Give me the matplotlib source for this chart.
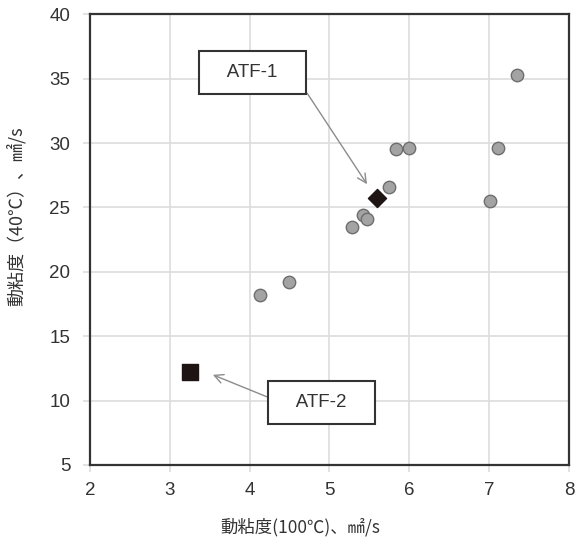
import matplotlib.pyplot as plt

plt.rcParams['font.family'] = ['Noto Sans CJK JP', 'DejaVu Sans']

# kinematic viscosity of ATF samples: 100°C vs 40°C (mm2/s)
visc_100 = [4.13, 4.49, 5.28, 5.42, 5.47, 5.75, 5.83, 6.00, 7.01, 7.11, 7.35]
visc_40 = [18.2, 19.2, 23.5, 24.4, 24.1, 26.6, 29.5, 29.6, 25.5, 29.6, 35.3]

atf1 = (5.60, 25.7)
atf2 = (3.25, 12.2)

x_ticks = [2, 3, 4, 5, 6, 7, 8]
y_ticks = [5, 10, 15, 20, 25, 30, 35, 40]

latin = ['Liberation Sans', 'DejaVu Sans']

fig = plt.figure(figsize=(5.76, 5.47), dpi=100)
ax = fig.add_axes([0.156, 0.150, 0.832, 0.824])

ax.scatter(visc_100, visc_40, s=80, c='#a3a3a3', edgecolors='#6e6e6e',
           linewidths=1.0, zorder=3)
ax.scatter([atf1[0]], [atf1[1]], s=85, marker='D', c='#1e1414',
           edgecolors='#1e1414', zorder=4)
ax.scatter([atf2[0]], [atf2[1]], s=130, marker='s', c='#1e1414',
           edgecolors='#1e1414', zorder=4)

ax.set_xlim(2, 8)
ax.set_ylim(5, 40)
ax.set_xticks(x_ticks)
ax.set_yticks(y_ticks)
ax.grid(True, color='#dddddd', linewidth=1.2, zorder=0)
ax.tick_params(colors='#dddddd', length=5, width=1.2, labelcolor='#333333',
               labelsize=13.5)
ax.tick_params(axis='y', pad=9)
ax.tick_params(axis='x', pad=7)
for lab in ax.get_xticklabels() + ax.get_yticklabels():
    lab.set_family(latin)
for sp in ax.spines.values():
    sp.set_color('#333333')
    sp.set_linewidth(1.6)

ax.set_xlabel('動粘度(100℃)、㎟/s', fontsize=12.5, color='#333333')
ax.set_ylabel('動粘度（40℃）、㎟/s', fontsize=13, color='#333333')
ax.xaxis.set_label_coords(0.438, -0.118)
ax.yaxis.set_label_coords(-0.134, 0.552)

box = dict(boxstyle='square,pad=0.7', fc='white', ec='#333333', lw=1.5)
arrow = dict(arrowstyle='->', color='#8c8c8c', lw=1.0, mutation_scale=16,
             shrinkA=0, shrinkB=0)
ax.annotate('   ATF-1   ', xy=(5.47, 26.8), xytext=(4.04, 35.5), fontsize=13.5,
            family=latin, color='#333333', ha='center', va='center', bbox=box,
            arrowprops=dict(arrow, relpos=(1.0, 0.5)), zorder=5)
ax.annotate('   ATF-2   ', xy=(3.54, 12.0), xytext=(4.9, 9.85), fontsize=13.5,
            family=latin, color='#333333', ha='center', va='center', bbox=box,
            arrowprops=dict(arrow, relpos=(0.0, 0.5)), zorder=5)

fig.savefig('out.png', dpi=100)
